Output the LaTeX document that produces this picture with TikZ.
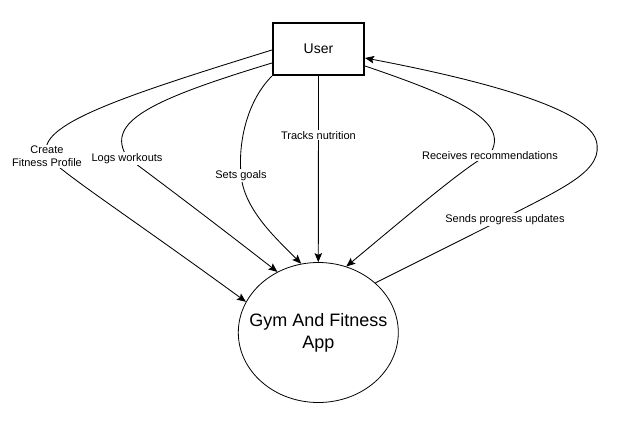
\documentclass[tikz,border=0pt]{standalone}
\usepackage{fontspec}
\setmainfont{Liberation Sans}
\usetikzlibrary{arrows.meta,shapes.geometric}
\begin{document}
\begin{tikzpicture}[x=1pt,y=-1pt,
  conn/.style={draw=black,line width=0.85pt},
  arr/.style={conn,-{Stealth[length=9pt,width=7.5pt,inset=1.8pt]}},
  lbl/.style={fill=white,inner sep=1pt,align=center,yshift=-1.5pt,font=\fontsize{11}{13}\selectfont},
  userbox/.style={draw=black,line width=1.6pt,minimum width=91.5pt,minimum height=52.5pt,inner sep=0pt,font=\fontsize{14}{17}\selectfont},
  appell/.style={draw=black,line width=0.8pt,ellipse,minimum width=160pt,minimum height=140pt,inner xsep=-20pt,inner ysep=0pt,align=center,font=\fontsize{18}{22}\selectfont}
]
\fill[white] (0,0) rectangle (631,430);
\useasboundingbox (0,0) rectangle (631,430);

\node[userbox] (user) at (318.5,49) {User};
\node[appell] (app) at (318.3,332.5) {Gym And Fitness\\App};

% Create Fitness Profile
\draw[arr] ([yshift=-1pt]user.west) .. controls (120,97) and (36,125) .. (47,155)
  node[lbl] (l1) {Create\\Fitness Profile}
  .. controls (54,168) and (120,210) .. (app.157.8);

% Logs workouts
\draw[arr] ([yshift=-14pt]user.west) .. controls (150,100) and (105,122) .. (127,157)
  node[lbl] (l2) {Logs workouts}
  .. controls (137,165) and (185,200) .. (app.124);

% Sets goals
\draw[arr] (user.south west) .. controls (248,100) and (238,140) .. (241,174)
  node[lbl] (l3) {Sets goals}
  .. controls (243,210) and (280,242) .. (app.104.5);

% Tracks nutrition
\draw[arr] (user.south) -- node[lbl,pos=0.31] (l4) {Tracks nutrition} (app.north);

% Receives recommendations
\draw[arr] ([yshift=-17pt]user.east) .. controls (450,95) and (512,120) .. (490,154)
  node[lbl] (l5) {Receives recommendations}
  .. controls (470,163) and (420,205) .. (app.67.5);

% Sends progress updates
\draw[arr] (app.41) -- (505,218)
  node[lbl] (l6) {Sends progress updates}
  .. controls (565,187) and (605,170) .. (596,140)
  .. controls (585,105) and (460,76) .. ([yshift=-9pt]user.east);
\end{tikzpicture}
\end{document}
